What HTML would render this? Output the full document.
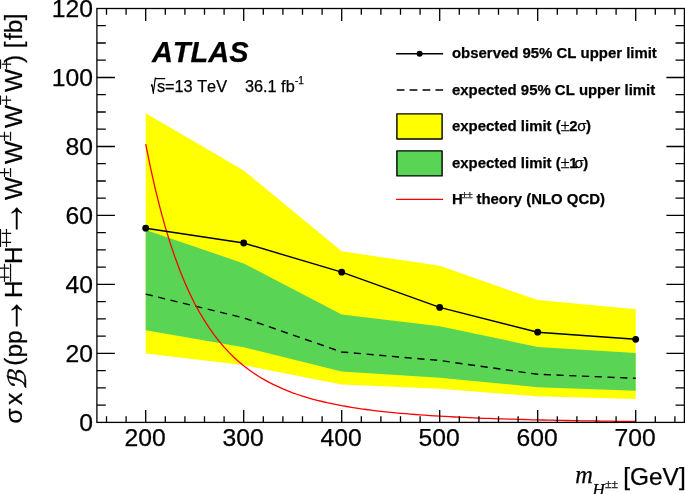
<!DOCTYPE html>
<html><head><meta charset="utf-8"><title>ATLAS limit plot</title>
<style>html,body{margin:0;padding:0;background:#fff}svg{display:block;will-change:transform}text{font-family:"Liberation Sans",sans-serif;fill:#000;font-kerning:none;stroke:#000;stroke-width:0.25px}.ser{font-family:"Liberation Serif",serif}.dj{font-family:"DejaVu Sans",sans-serif}</style></head><body>
<svg width="685" height="494" viewBox="0 0 685 494">
<rect width="685" height="494" fill="#fff"/>
<polygon points="145.7,113.2 243.7,170.4 341.7,251.3 439.7,265.8 537.7,300.1 635.7,309.3 635.7,398.9 537.7,396.3 439.7,388.8 341.7,384.5 243.7,365.1 145.7,353.4" fill="#ffff00"/>
<polygon points="145.7,229.9 243.7,263.4 341.7,314.4 439.7,326.2 537.7,346.9 635.7,352.9 635.7,390.8 537.7,387.2 439.7,377.7 341.7,371.4 243.7,347.2 145.7,330.3" fill="#59d454"/>
<polyline points="145.7,294.1 243.7,317.9 341.7,352.0 439.7,360.5 537.7,374.3 635.7,378.3" fill="none" stroke="#000" stroke-width="1.4" stroke-dasharray="7.2 5.55"/>
<polyline points="145.7,144.1 150.6,168.1 155.5,189.8 160.4,209.4 165.3,227.1 170.2,243.1 175.1,257.6 180.0,270.7 184.9,282.7 189.8,293.6 194.7,303.5 199.6,312.5 204.5,320.7 209.4,328.2 214.3,335.1 219.2,341.3 224.1,347.1 229.0,352.4 233.9,357.2 238.8,361.7 243.7,365.7 248.6,369.5 253.5,373.0 258.4,376.2 263.3,379.1 268.2,381.9 273.1,384.4 278.0,386.7 282.9,388.9 287.8,390.9 292.7,392.8 297.6,394.5 302.5,396.1 307.4,397.6 312.3,399.0 317.2,400.3 322.1,401.5 327.0,402.7 331.9,403.7 336.8,404.7 341.7,405.7 346.6,406.5 351.5,407.4 356.4,408.1 361.3,408.9 366.2,409.5 371.1,410.2 376.0,410.8 380.9,411.3 385.8,411.9 390.7,412.4 395.6,412.9 400.5,413.3 405.4,413.7 410.3,414.1 415.2,414.5 420.1,414.9 425.0,415.2 429.9,415.6 434.8,415.9 439.7,416.2 444.6,416.4 449.5,416.7 454.4,417.0 459.3,417.2 464.2,417.4 469.1,417.7 474.0,417.9 478.9,418.1 483.8,418.3 488.7,418.4 493.6,418.6 498.5,418.8 503.4,418.9 508.3,419.1 513.2,419.2 518.1,419.4 523.0,419.5 527.9,419.7 532.8,419.8 537.7,419.9 542.6,420.0 547.5,420.1 552.4,420.2 557.3,420.3 562.2,420.4 567.1,420.5 572.0,420.6 576.9,420.7 581.8,420.8 586.7,420.9 591.6,420.9 596.5,421.0 601.4,421.1 606.3,421.2 611.2,421.2 616.1,421.3 621.0,421.3 625.9,421.4 630.8,421.5 635.7,421.5" fill="none" stroke="#f00" stroke-width="1.3"/>
<polyline points="145.7,228.2 243.7,243.0 341.7,272.2 439.7,307.4 537.7,332.2 635.7,339.3" fill="none" stroke="#000" stroke-width="1.4"/>
<circle cx="145.7" cy="228.2" r="3.4"/>
<circle cx="243.7" cy="243.0" r="3.4"/>
<circle cx="341.7" cy="272.2" r="3.4"/>
<circle cx="439.7" cy="307.4" r="3.4"/>
<circle cx="537.7" cy="332.2" r="3.4"/>
<circle cx="635.7" cy="339.3" r="3.4"/>
<rect x="96.9" y="8.5" width="587.5" height="413.9" fill="none" stroke="#000" stroke-width="1.3"/>
<path d="M106.5 422.4v-6.2M106.5 8.5v6.2M126.1 422.4v-6.2M126.1 8.5v6.2M145.7 422.4v-12.4M145.7 8.5v12.4M165.3 422.4v-6.2M165.3 8.5v6.2M184.9 422.4v-6.2M184.9 8.5v6.2M204.5 422.4v-6.2M204.5 8.5v6.2M224.1 422.4v-6.2M224.1 8.5v6.2M243.7 422.4v-12.4M243.7 8.5v12.4M263.3 422.4v-6.2M263.3 8.5v6.2M282.9 422.4v-6.2M282.9 8.5v6.2M302.5 422.4v-6.2M302.5 8.5v6.2M322.1 422.4v-6.2M322.1 8.5v6.2M341.7 422.4v-12.4M341.7 8.5v12.4M361.3 422.4v-6.2M361.3 8.5v6.2M380.9 422.4v-6.2M380.9 8.5v6.2M400.5 422.4v-6.2M400.5 8.5v6.2M420.1 422.4v-6.2M420.1 8.5v6.2M439.7 422.4v-12.4M439.7 8.5v12.4M459.3 422.4v-6.2M459.3 8.5v6.2M478.9 422.4v-6.2M478.9 8.5v6.2M498.5 422.4v-6.2M498.5 8.5v6.2M518.1 422.4v-6.2M518.1 8.5v6.2M537.7 422.4v-12.4M537.7 8.5v12.4M557.3 422.4v-6.2M557.3 8.5v6.2M576.9 422.4v-6.2M576.9 8.5v6.2M596.5 422.4v-6.2M596.5 8.5v6.2M616.1 422.4v-6.2M616.1 8.5v6.2M635.7 422.4v-12.4M635.7 8.5v12.4M655.3 422.4v-6.2M655.3 8.5v6.2M674.9 422.4v-6.2M674.9 8.5v6.2M96.9 405.2h8.9M684.4 405.2h-8.9M96.9 387.9h8.9M684.4 387.9h-8.9M96.9 370.7h8.9M684.4 370.7h-8.9M96.9 353.4h18.0M684.4 353.4h-18.0M96.9 336.2h8.9M684.4 336.2h-8.9M96.9 318.9h8.9M684.4 318.9h-8.9M96.9 301.7h8.9M684.4 301.7h-8.9M96.9 284.4h18.0M684.4 284.4h-18.0M96.9 267.2h8.9M684.4 267.2h-8.9M96.9 249.9h8.9M684.4 249.9h-8.9M96.9 232.7h8.9M684.4 232.7h-8.9M96.9 215.4h18.0M684.4 215.4h-18.0M96.9 198.2h8.9M684.4 198.2h-8.9M96.9 181.0h8.9M684.4 181.0h-8.9M96.9 163.7h8.9M684.4 163.7h-8.9M96.9 146.5h18.0M684.4 146.5h-18.0M96.9 129.2h8.9M684.4 129.2h-8.9M96.9 112.0h8.9M684.4 112.0h-8.9M96.9 94.7h8.9M684.4 94.7h-8.9M96.9 77.5h18.0M684.4 77.5h-18.0M96.9 60.2h8.9M684.4 60.2h-8.9M96.9 43.0h8.9M684.4 43.0h-8.9M96.9 25.7h8.9M684.4 25.7h-8.9" stroke="#000" stroke-width="1.3" fill="none"/>
<text x="145.1" y="445.6" font-size="24.7" text-anchor="middle">200</text>
<text x="243.1" y="445.6" font-size="24.7" text-anchor="middle">300</text>
<text x="341.1" y="445.6" font-size="24.7" text-anchor="middle">400</text>
<text x="439.1" y="445.6" font-size="24.7" text-anchor="middle">500</text>
<text x="537.1" y="445.6" font-size="24.7" text-anchor="middle">600</text>
<text x="635.1" y="445.6" font-size="24.7" text-anchor="middle">700</text>
<text x="93.0" y="431.3" font-size="24.7" text-anchor="end">0</text>
<text x="93.0" y="362.3" font-size="24.7" text-anchor="end">20</text>
<text x="93.0" y="293.3" font-size="24.7" text-anchor="end">40</text>
<text x="93.0" y="224.3" font-size="24.7" text-anchor="end">60</text>
<text x="93.0" y="155.4" font-size="24.7" text-anchor="end">80</text>
<text x="93.0" y="86.4" font-size="24.7" text-anchor="end">100</text>
<text x="93.0" y="17.4" font-size="24.7" text-anchor="end">120</text>
<text x="151.9" y="62.0" font-size="29" font-weight="bold" font-style="italic">ATLAS</text>
<text transform="translate(151.1 93.0) scale(0.51 1.17)" font-size="16.3" style="stroke-width:1.1px">√</text>
<line x1="155.0" x2="165.2" y1="78.6" y2="78.6" stroke="#000" stroke-width="1.3"/>
<text x="156.9" y="92.0" font-size="16.3">s=13 TeV</text>
<text x="244.9" y="92.0" font-size="16.3">36.1 fb<tspan dy="-8" dx="0.3" font-size="10">-1</tspan></text>
<line x1="396.1" x2="443.1" y1="53.7" y2="53.7" stroke="#000" stroke-width="1.4"/>
<circle cx="419.6" cy="53.7" r="3"/>
<line x1="396.7" x2="443.1" y1="90.1" y2="90.1" stroke="#000" stroke-width="1.5" stroke-dasharray="7.8 5.1"/>
<rect x="396.9" y="113.9" width="45.2" height="25.1" fill="#ffff00" stroke="#000" stroke-width="1.4" stroke-linejoin="round"/>
<rect x="396.9" y="150.9" width="45.2" height="25.0" fill="#59d454" stroke="#000" stroke-width="1.4" stroke-linejoin="round"/>
<line x1="396.1" x2="443.1" y1="199.4" y2="199.4" stroke="#f00" stroke-width="1.3"/>
<text x="452.0" y="58" font-size="14.93" font-weight="bold">observed 95% CL upper limit</text>
<text x="452.0" y="94.6" font-size="14.93" font-weight="bold">expected 95% CL upper limit</text>
<text x="452.0" y="131.1" font-size="14.93" font-weight="bold">expected limit (<tspan font-weight="normal" class="ser" dx="-0.2" font-size="16.8">±</tspan><tspan dx="-0.5">2</tspan><tspan font-weight="normal" dx="-0.3">σ</tspan><tspan dx="-0.5">)</tspan></text>
<text x="452.0" y="167.7" font-size="14.93" font-weight="bold">expected limit (<tspan font-weight="normal" class="ser" dx="-0.2" font-size="16.8">±</tspan><tspan dx="-0.5">1</tspan><tspan font-weight="normal" dx="-2.9">σ</tspan><tspan dx="-0.5">)</tspan></text>
<text x="452.0" y="204.3" font-size="14.93" font-weight="bold">H<tspan font-weight="normal" class="ser" dy="-6" dx="-1.2" font-size="10.5" letter-spacing="-0.3">±±</tspan><tspan dy="6" dx="-0.2"> theory (NLO QCD)</tspan></text>
<text x="575.2" y="482.6" font-size="24.4" class="ser" font-style="italic">m</text>
<text x="592.6" y="494.6" font-size="17" class="ser" font-style="italic">H</text>
<text x="605" y="487.8" font-size="12" class="ser">±±</text>
<text x="623.3" y="484.7" font-size="24.4">[GeV]</text>
<g transform="translate(22.4 0) rotate(-90)">
<text x="-423.50" y="0.00" font-size="24.4">σ</text>
<text x="-404.98" y="0.00" font-size="24.4">x</text>
<g transform="translate(-390.10 3.2) skewX(-14)"><text x="0" y="0" font-size="25" class="dj" style="stroke-width:0.45px">ℬ</text></g>
<text x="-365.70" y="0.00" font-size="24.4">(</text>
<text x="-357.52" y="0.00" font-size="24.4">pp</text>
<text transform="translate(-334.10 1.3) scale(1 1.22)" font-size="37" style="stroke-width:0">→</text>
<text x="-297.90" y="0.00" font-size="24.4">H</text>
<text x="-282.58" y="-11.30" font-size="19" class="ser" letter-spacing="-1.4">±±</text>
<text x="-264.10" y="0.00" font-size="24.4">H</text>
<text x="-247.78" y="-11.30" font-size="19" class="ser" letter-spacing="-1.4" transform="rotate(180 -238.05 -16.70)">±±</text>
<text transform="translate(-237.10 1.3) scale(1 1.22)" font-size="37" style="stroke-width:0">→</text>
<text x="-200.02" y="0.00" font-size="24.4">W</text>
<text x="-177.68" y="-11.30" font-size="19" class="ser">±</text>
<text x="-163.92" y="0.00" font-size="24.4">W</text>
<text x="-141.58" y="-11.30" font-size="19" class="ser">±</text>
<text x="-127.92" y="0.00" font-size="24.4">W</text>
<text x="-105.58" y="-11.30" font-size="19" class="ser" letter-spacing="-1.4" transform="rotate(180 -100.35 -16.70)">±</text>
<text x="-91.92" y="0.00" font-size="24.4">W</text>
<text x="-69.58" y="-11.30" font-size="19" class="ser" letter-spacing="-1.4" transform="rotate(180 -64.35 -16.70)">±</text>
<text x="-63.05" y="0.00" font-size="24.4">)</text>
<text x="-48.25" y="0.00" font-size="24.4">[</text>
<text x="-40.08" y="0.00" font-size="24.4">fb</text>
<text x="-20.15" y="0.00" font-size="24.4">]</text>
</g>
</svg></body></html>
